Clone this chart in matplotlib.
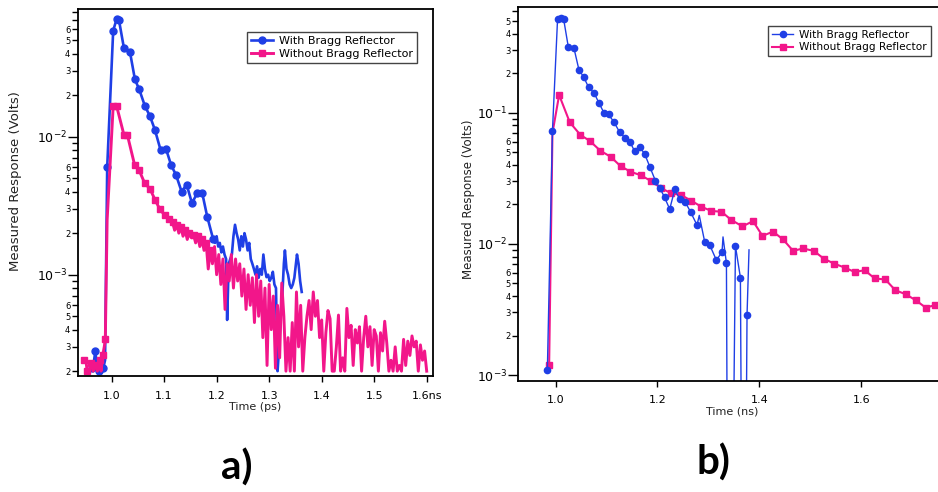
"""
Respuesta medida con y sin reflector de Bragg (paneles a y b)
"""
import numpy as np
import matplotlib
matplotlib.use('Agg')
import matplotlib.pyplot as plt
from matplotlib.ticker import LogLocator, FuncFormatter, LogFormatterSciNotation

BLUE = '#1f3fe6'
PINK = '#f2168a'
LABEL_WITH = 'With Bragg Reflector'
LABEL_WITHOUT = 'Without Bragg Reflector'

# ---------------- panel a (datos) ----------------
a_blue_t = [0.962, 0.966, 0.969, 0.9725, 0.976, 0.980, 0.984, 0.9875, 0.9916,
            1.003, 1.0095, 1.014, 1.0234, 1.035, 1.0444, 1.0526, 1.0634, 1.073,
            1.0825, 1.0933, 1.1034, 1.1135, 1.1225, 1.1333, 1.1429, 1.153,
            1.163, 1.1726, 1.182, 1.1935]
a_blue_v = [2.1e-4, 2.3e-4, 2.8e-4, 2.1e-4, 2.0e-4, 2.3e-4, 2.1e-4, 2.4e-4, 6.0e-3,
            5.87e-2, 7.1e-2, 7.0e-2, 4.4e-2, 4.1e-2, 2.6e-2, 2.2e-2, 1.67e-2, 1.41e-2,
            1.12e-2, 8.0e-3, 8.2e-3, 6.2e-3, 5.3e-3, 4.0e-3, 4.5e-3, 3.3e-3,
            3.9e-3, 3.9e-3, 2.64e-3, 1.8e-3]
a_blue_tail_t = [1.197, 1.200, 1.203, 1.206, 1.209, 1.212, 1.215, 1.218, 1.220, 1.223,
                 1.226, 1.229, 1.232, 1.235, 1.238, 1.241, 1.244, 1.247, 1.250, 1.253,
                 1.256, 1.259, 1.262, 1.265, 1.268, 1.271, 1.274, 1.277, 1.280, 1.283,
                 1.286, 1.289, 1.292, 1.295, 1.298, 1.301, 1.304, 1.307, 1.310, 1.313,
                 1.316, 1.319, 1.322, 1.325, 1.328, 1.330, 1.333, 1.336, 1.339, 1.342,
                 1.345, 1.348, 1.351, 1.353, 1.356, 1.359, 1.362]
a_blue_tail_v = [1.7e-3, 1.9e-3, 1.6e-3, 1.7e-3, 1.45e-3, 1.6e-3, 1.4e-3, 1.3e-3, 4.7e-4, 1.2e-3,
                 1.3e-3, 1.4e-3, 1.9e-3, 2.3e-3, 2.0e-3, 1.8e-3, 1.5e-3, 1.9e-3, 1.6e-3, 2.0e-3,
                 1.8e-3, 1.5e-3, 1.7e-3, 1.3e-3, 1.2e-3, 1.1e-3, 1.0e-3, 1.15e-3, 9.5e-4, 1.1e-3,
                 1.0e-3, 1.4e-3, 1.1e-3, 9.6e-4, 1.0e-3, 9.0e-4, 9.5e-4, 1.05e-3, 8.5e-4, 8.0e-4,
                 2.0e-4, 3.0e-4, 5.3e-4, 7.0e-4, 1.2e-3, 1.5e-3, 1.1e-3, 1.0e-3, 8.5e-4, 8.0e-4,
                 8.5e-4, 9.5e-4, 1.2e-3, 1.4e-3, 1.2e-3, 9.0e-4, 7.5e-4]

a_pink_t = [0.9475, 0.951, 0.9535, 0.958, 0.961, 0.965, 0.969, 0.973, 0.977, 0.980,
            0.983, 0.986, 0.988, 0.9915, 1.003, 1.0095, 1.0235, 1.030, 1.044, 1.0525,
            1.063, 1.073, 1.0825, 1.0915, 1.101, 1.1095]
a_pink_v = [2.4e-4, 2.4e-4, 2.0e-4, 2.0e-4, 2.3e-4, 2.0e-4, 2.2e-4, 2.0e-4, 2.4e-4, 2.0e-4,
            2.6e-4, 3.0e-4, 3.4e-4, 2.5e-3, 1.67e-2, 1.67e-2, 1.03e-2, 1.03e-2, 6.2e-3, 5.7e-3,
            4.6e-3, 4.2e-3, 3.5e-3, 3.0e-3, 2.7e-3, 2.55e-3]
# cola ruidosa, muestreo uniforme de 1.116 a 1.600 ns
a_pink_tail_v = [
    2.4e-3, 2.1e-3, 2.3e-3, 2.0e-3, 2.2e-3, 1.9e-3, 2.1e-3, 1.8e-3, 2.0e-3, 1.85e-3,
    1.95e-3, 1.7e-3, 1.9e-3, 1.6e-3, 1.8e-3, 1.5e-3, 1.7e-3, 1.1e-3, 1.5e-3, 1.2e-3,
    1.6e-3, 1.0e-3, 1.4e-3, 8.5e-4, 1.3e-3, 5.6e-4, 1.2e-3, 9.0e-4, 1.4e-3, 8.0e-4,
    1.3e-3, 9.0e-4, 1.2e-3, 7.0e-4, 1.1e-3, 5.6e-4, 1.0e-3, 6.0e-4, 9.5e-4, 4.5e-4,
    1.0e-3, 5.0e-4, 9.0e-4, 3.5e-4, 8.0e-4, 2.2e-4, 8.5e-4, 4.0e-4, 7.0e-4, 2.1e-4,
    6.0e-4, 2.5e-4, 8.7e-4, 5.0e-4, 2.0e-4, 3.5e-4, 2.0e-4, 4.5e-4, 2.0e-4, 7.5e-4,
    3.0e-4, 6.0e-4, 2.0e-4, 3.5e-4, 5.0e-4, 6.5e-4, 4.0e-4, 7.5e-4, 5.0e-4, 6.5e-4,
    3.5e-4, 4.7e-4, 2.0e-4, 3.8e-4, 5.5e-4, 4.8e-4, 2.0e-4, 2.0e-4, 3.0e-4, 5.1e-4,
    2.0e-4, 2.5e-4, 2.0e-4, 5.7e-4, 3.5e-4, 4.3e-4, 2.2e-4, 4.0e-4, 3.2e-4, 4.2e-4,
    2.0e-4, 3.5e-4, 5.0e-4, 3.0e-4, 4.2e-4, 2.2e-4, 4.0e-4, 3.6e-4, 2.0e-4, 3.8e-4,
    2.8e-4, 4.6e-4, 3.2e-4, 2.0e-4, 2.4e-4, 2.0e-4, 3.0e-4, 2.0e-4, 2.2e-4, 2.0e-4,
    3.4e-4, 2.2e-4, 3.3e-4, 2.6e-4, 3.6e-4, 3.0e-4, 3.3e-4, 2.0e-4, 3.1e-4, 2.4e-4,
    2.8e-4, 2.0e-4]
a_xticks = [1.0, 1.1, 1.2, 1.3, 1.4, 1.5, 1.6]
a_xticklabels = ['1.0', '1.1', '1.2', '1.3', '1.4', '1.5', '1.6ns']

# ---------------- panel b (datos) ----------------
b_blue_t = [0.984, 0.994, 1.004, 1.010, 1.016, 1.025, 1.036, 1.046, 1.055, 1.065,
            1.076, 1.085, 1.095, 1.104, 1.115, 1.126, 1.136, 1.146, 1.155, 1.165,
            1.175, 1.185, 1.196, 1.205, 1.214, 1.224, 1.234, 1.244, 1.254, 1.265,
            1.2776, 1.282, 1.2927, 1.3025, 1.3157, 1.3267, 1.3286, 1.3353, 1.3384, 1.345,
            1.353, 1.3627, 1.3668, 1.3715, 1.3757, 1.3796]
b_blue_v = [1.09e-3, 0.0725, 0.516, 0.53, 0.516, 0.319, 0.313, 0.212, 0.188, 0.156,
            0.141, 0.119, 0.100, 0.097, 0.0845, 0.0708, 0.0645, 0.060, 0.051, 0.055,
            0.0484, 0.0387, 0.0303, 0.0265, 0.0226, 0.0184, 0.026, 0.0218, 0.021, 0.0175,
            0.0139, 0.0165, 0.01035, 0.0098, 0.0075, 0.0087, 0.0113, 0.0071, 1e-5, 1e-5,
            0.0096, 0.00554, 1e-5, 1e-5, 0.00286, 0.0090]
b_blue_marks = [i for i in range(len(b_blue_t)) if i not in (31, 36, 38, 39, 42, 43, 45)]

b_pink_t = [0.9875, 0.994, 1.0071, 1.028, 1.049, 1.067, 1.088, 1.108, 1.1275, 1.147,
            1.167, 1.187, 1.2076, 1.2275, 1.247, 1.2667, 1.286, 1.306, 1.3255, 1.345,
            1.3667, 1.3875, 1.406, 1.4267, 1.4465, 1.466, 1.4855, 1.5065, 1.526, 1.546,
            1.567, 1.587, 1.6065, 1.626, 1.647, 1.6667, 1.687, 1.7065, 1.726, 1.7437,
            1.764]
b_pink_v = [1.2e-3, 0.070, 0.1365, 0.0845, 0.0676, 0.0611, 0.0513, 0.0462, 0.0392, 0.0355,
            0.0334, 0.0302, 0.0265, 0.0243, 0.0235, 0.0213, 0.0192, 0.0178, 0.0176, 0.0152,
            0.0136, 0.0149, 0.0115, 0.0124, 0.0108, 0.00885, 0.00922, 0.00885, 0.00773, 0.00708,
            0.0066, 0.0061, 0.0063, 0.00545, 0.00535, 0.00443, 0.00413, 0.00372, 0.00327, 0.0034,
            0.0031]
b_xticks = [1.0, 1.2, 1.4, 1.6]
b_xticklabels = ['1.0', '1.2', '1.4', '1.6']


def minor_labels(top):
    """Etiquetas 2..6 en las marcas menores del eje log"""
    def fmt(v, pos):
        d = int(round(v / 10 ** np.floor(np.log10(v) + 1e-9)))
        if 2 <= d <= 6 and v < top / 1.1:
            return str(d)
        return ''
    return FuncFormatter(fmt)


def style_axes(ax, ylim, xlim, xticks, xticklabels, ylabel_size):
    ax.set_yscale('log')
    ax.set_ylim(*ylim)
    ax.set_xlim(*xlim)
    ax.yaxis.set_major_locator(LogLocator(base=10, numticks=20))
    ax.yaxis.set_major_formatter(LogFormatterSciNotation())
    ax.yaxis.set_minor_locator(LogLocator(base=10, subs=np.arange(2, 10), numticks=50))
    ax.yaxis.set_minor_formatter(minor_labels(ylim[1]))
    ax.set_xticks(xticks, xticklabels)
    ax.tick_params(axis='y', which='major', direction='out', length=7, width=1,
                   labelsize=9, pad=1)
    ax.tick_params(axis='y', which='minor', direction='out', length=4, width=1,
                   labelsize=6, pad=1.5)
    ax.tick_params(axis='x', which='major', direction='out', length=4, width=1,
                   labelsize=8, pad=6.5)
    ax.tick_params(axis='x', which='minor', bottom=False)
    for sp in ax.spines.values():
        sp.set_linewidth(1.3)
    ax.set_ylabel('Measured Response (Volts)', fontsize=ylabel_size, color='#222222')


def add_legend(ax, fig, handles, anchor, size):
    leg = ax.legend(handles=handles, loc='upper left', bbox_to_anchor=anchor,
                    bbox_transform=fig.transFigure, borderaxespad=0, fontsize=size,
                    frameon=True, fancybox=False, framealpha=1, edgecolor='#444444',
                    handlelength=2.0, handletextpad=0.6, borderpad=0.35,
                    labelspacing=0.25, numpoints=1)
    leg.get_frame().set_linewidth(1.0)
    return leg


fig = plt.figure(figsize=(9.38, 4.92), dpi=100)

# ---------------- panel a ----------------
ax1 = fig.add_axes([78 / 938, 1 - 376 / 492, 355 / 938, 367 / 492])
blue_t = a_blue_t + a_blue_tail_t
blue_v = a_blue_v + a_blue_tail_v
pink_tail_t = list(np.linspace(1.116, 1.600, len(a_pink_tail_v)))
pink_t = a_pink_t + pink_tail_t
pink_v = a_pink_v + a_pink_tail_v
blue_marks = list(range(0, 8, 2)) + list(range(8, len(a_blue_t)))
pink_marks = (list(range(0, 13, 2)) + list(range(14, len(a_pink_t)))
              + [len(a_pink_t) + i for i in range(0, 20, 2)])

hb, = ax1.plot(blue_t, blue_v, '-o', color=BLUE, lw=1.9, ms=5, mec=BLUE,
               markevery=blue_marks, label=LABEL_WITH)
hp, = ax1.plot(pink_t, pink_v, '-s', color=PINK, lw=2.1, ms=4.3, mec=PINK,
               markevery=pink_marks, label=LABEL_WITHOUT)
style_axes(ax1, (1.845e-4, 8.42e-2), (0.936, 1.612), a_xticks, a_xticklabels, 9.5)
ax1.set_xlabel('Time (ps)', fontsize=8, color='#222222', labelpad=1)
ax1.yaxis.set_label_coords(-0.158, 0.53)
add_legend(ax1, fig, [hb, hp], (246.7 / 938, 1 - 32.3 / 492), 8)

# ---------------- panel b ----------------
ax2 = fig.add_axes([518.3 / 938, 1 - 380.7 / 492, (947 - 518.3) / 938, 373.7 / 492])
hp2, = ax2.plot(b_pink_t, b_pink_v, '-s', color=PINK, lw=1.5, ms=4, mec=PINK,
                markevery=[i for i in range(len(b_pink_t)) if i != 1], label=LABEL_WITHOUT)
hb2, = ax2.plot(b_blue_t, b_blue_v, '-o', color=BLUE, lw=1.0, ms=4.5, mec=BLUE,
                markevery=b_blue_marks, label=LABEL_WITH)
style_axes(ax2, (9.05e-4, 0.640), (0.927, 1.768), b_xticks, b_xticklabels, 8.5)
ax2.set_xlabel('Time (ns)', fontsize=8, color='#222222', labelpad=1)
ax2.yaxis.set_label_coords(-0.102, 0.486)
add_legend(ax2, fig, [hb2, hp2], (768.3 / 938, 1 - 26 / 492), 7.6)

fig.text(237 / 938, 1 - 468 / 492, 'a)', ha='center', va='center', fontsize=29,
         fontweight='bold', family=['Lato', 'DejaVu Sans'])
fig.text(713 / 938, 1 - 463 / 492, 'b)', ha='center', va='center', fontsize=29,
         fontweight='bold', family=['Lato', 'DejaVu Sans'])

fig.savefig('out.png', dpi=100)
plt.close(fig)
